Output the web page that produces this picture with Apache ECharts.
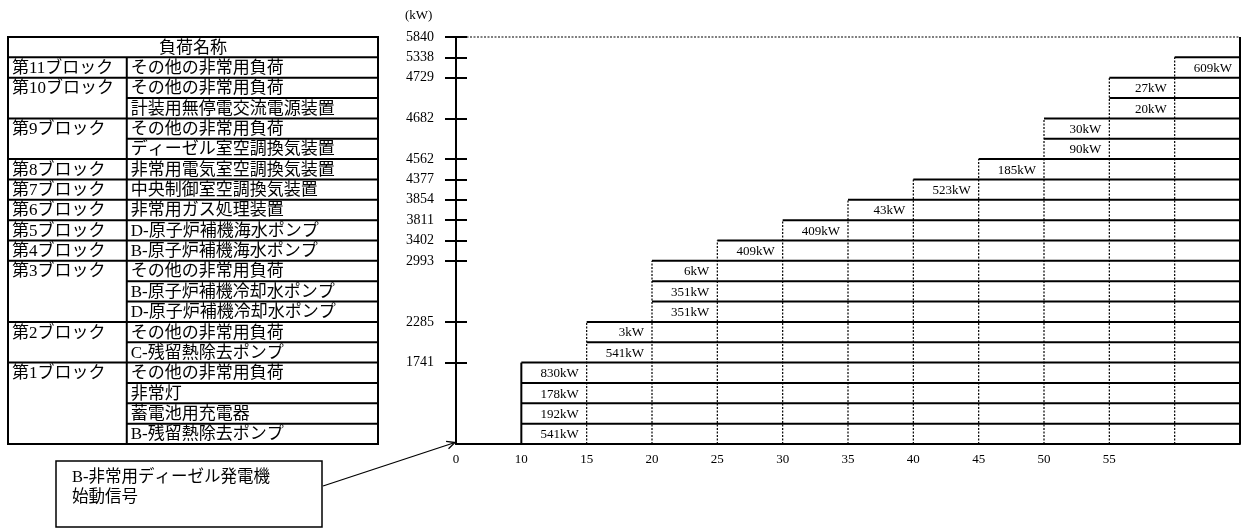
<!DOCTYPE html>
<html><head><meta charset="utf-8">
<script src="https://cdn.jsdelivr.net/npm/echarts@6/dist/echarts.min.js"></script>
<style>html,body{margin:0;padding:0;background:#fff}#c{width:1249px;height:529px}</style>
</head><body><div id="c"></div>
<script>
// ---------------- data ----------------
const xCategories = ['0','10','15','20','25','30','35','40','45','50','55','60','65'];
const xHiddenLabels = ['60','65'];
const blockNames = ['第1ブロック','第2ブロック','第3ブロック','第4ブロック','第5ブロック','第6ブロック',
  '第7ブロック','第8ブロック','第9ブロック','第10ブロック','第11ブロック'];
const blockStartTimes = ['10','15','20','25','30','35','40','45','50','55','60'];
// loads listed bottom to top
const loadNames = [
  'B-残留熱除去ポンプ','蓄電池用充電器','非常灯','その他の非常用負荷',
  'C-残留熱除去ポンプ','その他の非常用負荷',
  'D-原子炉補機冷却水ポンプ','B-原子炉補機冷却水ポンプ','その他の非常用負荷',
  'B-原子炉補機海水ポンプ',
  'D-原子炉補機海水ポンプ',
  '非常用ガス処理装置',
  '中央制御室空調換気装置',
  '非常用電気室空調換気装置',
  'ディーゼル室空調換気装置','その他の非常用負荷',
  '計装用無停電交流電源装置','その他の非常用負荷',
  'その他の非常用負荷'];
const loadKW = [541,192,178,830, 541,3, 351,351,6, 409, 409, 43, 523, 185, 90,30, 20,27, 609];
const loadBlock = [1,1,1,1, 2,2, 3,3,3, 4, 5, 6, 7, 8, 9,9, 10,10, 11];
const yTickLabels = ['1741','2285','2993','3402','3811','3854','4377','4562','4682','4729','5338','5840'];
const headerText = '負荷名称';
const unitText = '(kW)';
const signalText = ['B-非常用ディーゼル発電機','始動信号'];

// ---------------- derived ----------------
const FONT = "'Liberation Serif','Noto Sans CJK JP',serif";
const nRows = loadKW.length;
const topRow = nRows + 1;
const lastX = xCategories.length - 1;
const blockTop = [];
loadBlock.forEach((b, i) => { blockTop[b - 1] = i + 1; });
const tickRows = blockTop.concat([topRow]);
const tickLabelByRow = {};
tickRows.forEach((r, i) => { tickLabelByRow[r] = yTickLabels[i]; });

const loadData = loadKW.map((kw, i) => [xCategories.indexOf(blockStartTimes[loadBlock[i] - 1]), i, kw]);
const dividerData = blockStartTimes.map((t, b) => [xCategories.indexOf(t), blockTop[b], b === 0 ? 1 : 0]);
const tableData = loadNames.map((n, i) => [i]);
const DIVX = 0.321;

const chart = echarts.init(document.getElementById('c'), null, {renderer: 'canvas'});

function renderLoad(params, api) {
  const x0 = api.value(0), r = api.value(1), kw = api.value(2);
  const a = api.coord([x0, r + 1]);
  const b = api.coord([lastX, r + 1]);
  const c = api.coord([x0 + 1, r + 0.5]);
  return {type: 'group', children: [
    {type: 'line', shape: {x1: a[0], y1: a[1], x2: b[0], y2: b[1]}, style: {stroke: '#000', lineWidth: 2}},
    {type: 'text', style: {text: kw + 'kW', x: c[0] - 8, y: c[1] + 1, align: 'right', verticalAlign: 'middle',
      font: '13px ' + FONT, fill: '#000'}}
  ]};
}
function renderDivider(params, api) {
  const x = api.value(0), top = api.value(1), solid = api.value(2);
  const a = api.coord([x, 0]), b = api.coord([x, top]);
  return {type: 'line', shape: {x1: a[0], y1: a[1], x2: b[0], y2: b[1]},
    style: solid ? {stroke: '#000', lineWidth: 2} : {stroke: '#000', lineWidth: 1.2, lineDash: [2, 1.5]}};
}
function renderCapacity(params, api) {
  const a = api.coord([0, topRow]), b = api.coord([lastX, topRow]), c = api.coord([lastX, 0]);
  return {type: 'group', children: [
    {type: 'line', shape: {x1: a[0], y1: a[1], x2: b[0], y2: b[1]}, style: {stroke: '#000', lineWidth: 1.2, lineDash: [2, 1.5]}},
    {type: 'line', shape: {x1: b[0], y1: b[1], x2: c[0], y2: c[1]}, style: {stroke: '#000', lineWidth: 2}}
  ]};
}
function renderTableRow(params, api) {
  const i = api.value(0);
  const children = [];
  const isBlockTop = (i === nRows - 1) || loadBlock[i + 1] !== loadBlock[i];
  const lx = isBlockTop ? 0 : DIVX;
  const a = api.coord([lx, i + 1]), b = api.coord([1, i + 1]);
  children.push({type: 'line', shape: {x1: a[0], y1: a[1], x2: b[0], y2: b[1]}, style: {stroke: '#000', lineWidth: 2}});
  const t = api.coord([DIVX, i + 0.5]);
  children.push({type: 'text', style: {text: loadNames[i], x: t[0] + 4, y: t[1] + 1, align: 'left', verticalAlign: 'middle',
    font: '17px ' + FONT, fill: '#000'}});
  if (isBlockTop) {
    const s = api.coord([0, i + 0.5]);
    children.push({type: 'text', style: {text: blockNames[loadBlock[i] - 1], x: s[0] + 4, y: s[1] + 1, align: 'left',
      verticalAlign: 'middle', font: '17px ' + FONT, fill: '#000'}});
  }
  return {type: 'group', children};
}
function renderTableFrame(params, api) {
  const tl = api.coord([0, topRow]), br = api.coord([1, 0]);
  const d0 = api.coord([DIVX, 0]), d1 = api.coord([DIVX, nRows]);
  const h = api.coord([0.5, nRows + 0.5]);
  return {type: 'group', children: [
    {type: 'rect', shape: {x: tl[0], y: tl[1], width: br[0] - tl[0], height: br[1] - tl[1]},
      style: {fill: 'none', stroke: '#000', lineWidth: 2}},
    {type: 'line', shape: {x1: d0[0], y1: d0[1], x2: d1[0], y2: d1[1]}, style: {stroke: '#000', lineWidth: 2}},
    {type: 'text', style: {text: headerText, x: h[0], y: h[1] + 1, align: 'center', verticalAlign: 'middle',
      font: '17px ' + FONT, fill: '#000'}}
  ]};
}

const option = {
  backgroundColor: '#fff',
  animation: false,
  grid: [
    {left: 456, right: 9, top: 37, bottom: 85},
    {left: 8, width: 370, top: 37, bottom: 85}
  ],
  xAxis: [
    {gridIndex: 0, type: 'category', data: xCategories, boundaryGap: false,
      axisLine: {lineStyle: {color: '#000', width: 2}}, axisTick: {show: false},
      axisLabel: {interval: 0, formatter: v => xHiddenLabels.includes(v) ? '' : v, color: '#000',
        fontFamily: FONT, fontSize: 13, margin: 9},
      splitLine: {show: false}},
    {gridIndex: 1, type: 'value', min: 0, max: 1, show: false}
  ],
  yAxis: [
    {gridIndex: 0, type: 'value', min: 0, max: topRow,
      axisLine: {show: true, lineStyle: {color: '#000', width: 2}},
      axisTick: {show: true, customValues: tickRows, length: 11, lineStyle: {color: '#000', width: 2}},
      axisLabel: {customValues: tickRows, formatter: v => tickLabelByRow[v] || '', color: '#000',
        fontFamily: FONT, fontSize: 14, margin: 22},
      splitLine: {show: false}},
    {gridIndex: 0, type: 'value', min: 0, max: topRow, position: 'left',
      axisLine: {show: false},
      axisTick: {show: true, inside: true, customValues: tickRows, length: 11, lineStyle: {color: '#000', width: 2}},
      axisLabel: {show: false}, splitLine: {show: false}},
    {gridIndex: 1, type: 'value', min: 0, max: topRow, show: false}
  ],
  series: [
    {type: 'custom', name: 'capacity', xAxisIndex: 0, yAxisIndex: 0, clip: false, renderItem: renderCapacity, data: [[topRow]], z: 2},
    {type: 'custom', name: 'dividers', xAxisIndex: 0, yAxisIndex: 0, clip: false, renderItem: renderDivider, data: dividerData, z: 2},
    {type: 'custom', name: 'loads', xAxisIndex: 0, yAxisIndex: 0, clip: false, renderItem: renderLoad, data: loadData, z: 3},
    {type: 'custom', name: 'tableRows', xAxisIndex: 1, yAxisIndex: 2, clip: false, renderItem: renderTableRow, data: tableData, z: 3},
    {type: 'custom', name: 'tableFrame', xAxisIndex: 1, yAxisIndex: 2, clip: false, renderItem: renderTableFrame, data: [[0]], z: 4}
  ]
};
chart.setOption(option);

// annotations
const origin = chart.convertToPixel({xAxisIndex: 0, yAxisIndex: 0}, [0, 0]);
const start = [323, 486];
const end = [origin[0] - 1, origin[1] - 1.5];
const ang = Math.atan2(end[1] - start[1], end[0] - start[0]);
const hl = 9, ha = 0.45;
const h1 = [end[0] - hl * Math.cos(ang - ha), end[1] - hl * Math.sin(ang - ha)];
const h2 = [end[0] - hl * Math.cos(ang + ha), end[1] - hl * Math.sin(ang + ha)];
chart.setOption({
  graphic: [
    {type: 'text', left: 405, top: 9, style: {text: unitText, font: '13px ' + FONT, fill: '#000'}},
    {type: 'rect', shape: {x: 56, y: 461, width: 266, height: 66}, style: {fill: '#fff', stroke: '#000', lineWidth: 1.5}},
    {type: 'text', x: 72, y: 478, style: {text: signalText[0], font: '16.5px ' + FONT, fill: '#000', verticalAlign: 'middle'}},
    {type: 'text', x: 72, y: 498, style: {text: signalText[1], font: '16.5px ' + FONT, fill: '#000', verticalAlign: 'middle'}},
    {type: 'line', shape: {x1: start[0], y1: start[1], x2: end[0], y2: end[1]}, style: {stroke: '#000', lineWidth: 1.3}},
    {type: 'polyline', shape: {points: [h1, end, h2]}, style: {fill: 'none', stroke: '#000', lineWidth: 1.3}}
  ]
});
</script></body></html>
